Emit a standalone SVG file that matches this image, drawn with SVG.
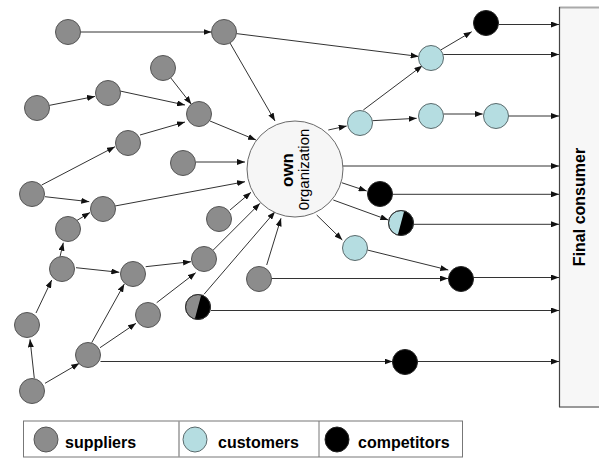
<svg xmlns="http://www.w3.org/2000/svg" width="599" height="458" viewBox="0 0 599 458">
  <defs>
    <marker id="arr" viewBox="0 0 8 6" refX="8" refY="3" markerWidth="8" markerHeight="6" orient="auto" markerUnits="userSpaceOnUse">
      <path d="M0,0 L8,3 L0,6 z" fill="#111"/>
    </marker>
    <style>
      .sup { fill: #8c8c8c; stroke: #555; stroke-width: 1; }
      .cus { fill: #b5dde1; stroke: #5a6a6c; stroke-width: 1; }
      .com { fill: #000; stroke: #222; stroke-width: 1; }
      .own { fill: #f6f6f6; stroke: #6a6a6a; stroke-width: 1; }
      .edge line { stroke: #333; stroke-width: 1; marker-end: url(#arr); }
      .lbl { font-family: "Liberation Sans", Arial, sans-serif; fill: #000; }
      .b { font-weight: bold; }
    </style>
  </defs>
  <rect width="599" height="458" fill="#fff"/>

  <!-- Final consumer panel -->
  <g id="final-consumer">
    <rect x="559" y="7.5" width="50" height="399.5" fill="#f7f7f7"/>
    <line x1="559" y1="7.5" x2="599" y2="7.5" stroke="#aaa" stroke-width="2"/>
    <line x1="559" y1="407" x2="599" y2="407" stroke="#999" stroke-width="2"/>
    <line x1="559.5" y1="7" x2="559.5" y2="407" stroke="#444" stroke-width="1.2"/>
    <text class="lbl b" font-size="16" text-anchor="middle" transform="translate(585,207) rotate(-90)">Final consumer</text>
  </g>

  <g id="connectors" class="edge">
    <line x1="80.5" y1="32" x2="211.5" y2="32"/>
    <line x1="236.4" y1="33.6" x2="418.6" y2="56.4"/>
    <line x1="230" y1="43" x2="275" y2="121"/>
    <line x1="170.7" y1="77.8" x2="191.3" y2="104.2"/>
    <line x1="49.2" y1="105.4" x2="95" y2="96.4"/>
    <line x1="120" y1="91" x2="185" y2="105"/>
    <line x1="210" y1="121" x2="256" y2="140"/>
    <line x1="140" y1="135" x2="185" y2="122"/>
    <line x1="41.7" y1="185" x2="115" y2="146.7"/>
    <line x1="196" y1="162" x2="245" y2="162"/>
    <line x1="45" y1="196.7" x2="89.3" y2="201.7"/>
    <line x1="115" y1="206" x2="245" y2="181.7"/>
    <line x1="76.5" y1="220.7" x2="90" y2="212.5"/>
    <line x1="60" y1="256.7" x2="63.3" y2="242.7"/>
    <line x1="36" y1="313" x2="51.7" y2="280"/>
    <line x1="34.3" y1="378.3" x2="30" y2="339.3"/>
    <line x1="45" y1="383.3" x2="79.3" y2="363.3"/>
    <line x1="91.7" y1="342.7" x2="124.3" y2="284"/>
    <line x1="100" y1="347.7" x2="136" y2="323.3"/>
    <line x1="76" y1="267.7" x2="119.3" y2="272.3"/>
    <line x1="145.7" y1="266.7" x2="191" y2="261.7"/>
    <line x1="156.7" y1="302.7" x2="195.7" y2="272.7"/>
    <line x1="213.3" y1="250" x2="260" y2="203.3"/>
    <line x1="230" y1="210" x2="251" y2="192.3"/>
    <line x1="204" y1="294.3" x2="275" y2="211.7"/>
    <line x1="266.7" y1="265" x2="281" y2="218.3"/>
    <line x1="271.5" y1="278.5" x2="448" y2="278.5"/>
    <line x1="211" y1="310.5" x2="559" y2="310.5"/>
    <line x1="100.5" y1="361.5" x2="392.5" y2="361.5"/>
    <line x1="417.5" y1="361.5" x2="559" y2="361.5"/>
    <line x1="328.3" y1="130" x2="346.7" y2="126"/>
    <line x1="363.3" y1="110" x2="422.3" y2="65.7"/>
    <line x1="372.3" y1="120.7" x2="416.7" y2="118.3"/>
    <line x1="443.3" y1="114" x2="482.7" y2="114"/>
    <line x1="508.3" y1="116" x2="559" y2="116"/>
    <line x1="440.7" y1="50" x2="471.7" y2="31.7"/>
    <line x1="499" y1="24.5" x2="559" y2="24.5"/>
    <line x1="443.3" y1="54.5" x2="559" y2="54.5"/>
    <line x1="342.7" y1="166" x2="559" y2="166"/>
    <line x1="341.7" y1="182.7" x2="366.7" y2="191"/>
    <line x1="392.7" y1="194.3" x2="559" y2="194.3"/>
    <line x1="333.3" y1="200" x2="388.3" y2="220"/>
    <line x1="412.7" y1="224.3" x2="559" y2="224.3"/>
    <line x1="316.7" y1="215" x2="342.3" y2="240"/>
    <line x1="367.3" y1="250" x2="448.3" y2="270"/>
    <line x1="473.3" y1="277.5" x2="559" y2="277.5"/>
  </g>

  <!-- own organization -->
  <g id="own-organization">
    <circle class="own" cx="295" cy="169" r="48"/>
    <text class="lbl b" font-size="17" text-anchor="middle" transform="translate(292.5,170) rotate(-90)">own</text>
    <text class="lbl" font-size="15" text-anchor="middle" transform="translate(309,169.5) rotate(-90)">0rganization</text>
  </g>

  <!-- suppliers -->
  <g id="sup-a"><circle class="sup" cx="68" cy="32" r="12.5"/></g>
  <g id="sup-b"><circle class="sup" cx="224" cy="32" r="12.5"/></g>
  <g id="sup-c"><circle class="sup" cx="163" cy="68" r="12.5"/></g>
  <g id="sup-d"><circle class="sup" cx="108" cy="93" r="12.5"/></g>
  <g id="sup-e"><circle class="sup" cx="37" cy="108" r="12.5"/></g>
  <g id="sup-f"><circle class="sup" cx="199" cy="114" r="12.5"/></g>
  <g id="sup-g"><circle class="sup" cx="128" cy="143" r="12.5"/></g>
  <g id="sup-h"><circle class="sup" cx="183" cy="163" r="12.5"/></g>
  <g id="sup-i"><circle class="sup" cx="32" cy="194" r="12.5"/></g>
  <g id="sup-j"><circle class="sup" cx="103" cy="209" r="12.5"/></g>
  <g id="sup-k"><circle class="sup" cx="68" cy="229" r="12.5"/></g>
  <g id="sup-l"><circle class="sup" cx="62" cy="269" r="12.5"/></g>
  <g id="sup-m"><circle class="sup" cx="27" cy="325" r="12.5"/></g>
  <g id="sup-n"><circle class="sup" cx="32" cy="391" r="12.5"/></g>
  <g id="sup-o"><circle class="sup" cx="88" cy="355" r="12.5"/></g>
  <g id="sup-p"><circle class="sup" cx="133" cy="274" r="12.5"/></g>
  <g id="sup-q"><circle class="sup" cx="148" cy="315" r="12.5"/></g>
  <g id="sup-r"><circle class="sup" cx="204" cy="259" r="12.5"/></g>
  <g id="sup-s"><circle class="sup" cx="219" cy="219" r="12.5"/></g>
  <g id="sup-u"><circle class="sup" cx="259" cy="279" r="12.5"/></g>
  <!-- supplier that is also a competitor -->
  <g id="sup-t">
    <circle class="sup" cx="198" cy="307" r="12.5"/>
    <path d="M201.2,294.9 A12.5,12.5 0 0 1 194.8,319.1 Z" fill="#000"/>
    <circle cx="198" cy="307" r="12.5" fill="none" stroke="#333"/>
  </g>

  <!-- customers -->
  <g id="cus-1"><circle class="cus" cx="431" cy="58" r="12.5"/></g>
  <g id="cus-2"><circle class="cus" cx="360" cy="123" r="12.5"/></g>
  <g id="cus-3"><circle class="cus" cx="431" cy="116" r="12.5"/></g>
  <g id="cus-4"><circle class="cus" cx="496" cy="116" r="12.5"/></g>
  <g id="cus-5"><circle class="cus" cx="355" cy="248" r="12.5"/></g>
  <!-- customer that is also a competitor -->
  <g id="cus-6">
    <circle class="cus" cx="401" cy="223" r="12.5"/>
    <path d="M404.2,210.9 A12.5,12.5 0 0 1 397.8,235.1 Z" fill="#000"/>
    <circle cx="401" cy="223" r="12.5" fill="none" stroke="#333"/>
  </g>

  <!-- competitors -->
  <g id="com-1"><circle class="com" cx="486" cy="23" r="12.5"/></g>
  <g id="com-2"><circle class="com" cx="380" cy="194" r="12.5"/></g>
  <g id="com-3"><circle class="com" cx="461" cy="279" r="12.5"/></g>
  <g id="com-4"><circle class="com" cx="405" cy="362" r="12.5"/></g>

  <!-- legend -->
  <g id="legend">
    <rect x="23.5" y="421" width="439" height="36" fill="#fff" stroke="#777" stroke-width="1"/>
    <line x1="179" y1="421" x2="179" y2="457" stroke="#999" stroke-width="1.5"/>
    <line x1="319" y1="421" x2="319" y2="457" stroke="#777" stroke-width="1"/>
    <ellipse class="sup" cx="46" cy="439.5" rx="12" ry="12.5"/>
    <text class="lbl b" font-size="16" x="65" y="448">suppliers</text>
    <ellipse class="cus" cx="195" cy="439.5" rx="12" ry="12.5"/>
    <text class="lbl b" font-size="16" x="218" y="448">customers</text>
    <ellipse class="com" cx="337" cy="439.5" rx="12" ry="12.5"/>
    <text class="lbl b" font-size="16" x="358" y="448">competitors</text>
  </g>
</svg>
